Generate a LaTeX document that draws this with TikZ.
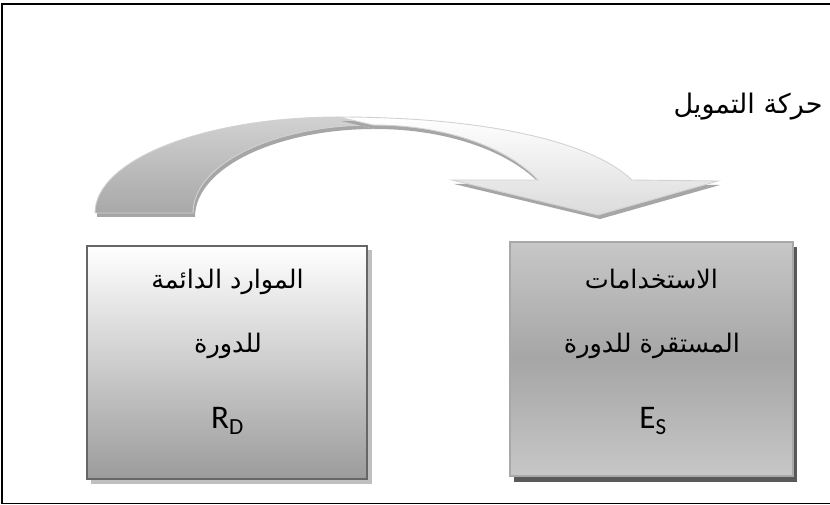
\documentclass[tikz,border=0pt]{standalone}
\usepackage{fontspec}
\TeXXeTstate=1
\newfontfamily\arabicfont[Script=Arabic]{DejaVu Sans}
\newfontfamily\latinfont{Carlito}
\definecolor{boxborder}{HTML}{666666}
\definecolor{lshadow}{HTML}{BFBFBF}
\definecolor{rshadow}{HTML}{595959}
\definecolor{rborder}{HTML}{A8A8A8}
\definecolor{arrshadow}{HTML}{A6A6A6}
\definecolor{arrrim}{HTML}{D2D2D2}
\tikzset{
  artext/.style={font=\arabicfont\fontsize{25.5}{30}\selectfont, inner sep=0pt, anchor=base},
  titletext/.style={font=\arabicfont\fontsize{27}{32}\selectfont, inner sep=0pt, anchor=base},
  lattext/.style={font=\latinfont\fontsize{33}{38}\selectfont, inner sep=0pt, anchor=base},
}
\newcommand\BackArrowPath{(95,213) .. controls (95,160) and (204,117) .. (339,117) -- (373,125) .. controls (274,125) and (193,164) .. (193,213) -- cycle}
\newcommand\FrontArrowPath{(339,117) .. controls (480,117) and (590,140) .. (632,180) -- (718,181) -- (598,215) -- (452,180) -- (538,180) .. controls (510,150) and (450,125) .. (373,125) -- cycle}
\begin{document}
\begin{tikzpicture}[x=1pt,y=-1pt]
\useasboundingbox (0,0) rectangle (830,505);
% frame
\draw[line width=1.6pt] (840,4) -- (2,4) -- (2,503.5) -- (840,503.5);
% curved arrow
\fill[arrshadow,shift={(2,4)}] \BackArrowPath;
\shade[top color=black!18,bottom color=black!34,draw=arrrim,line width=0.9pt] \BackArrowPath;
\fill[arrshadow,shift={(2,4)}] \FrontArrowPath;
\shade[top color=white,bottom color=black!14,draw=arrrim,line width=0.9pt] \FrontArrowPath;
\node[titletext] (title) at (748,114) {\beginR حركة التمويل\endR};
% left box
\fill[lshadow] (91,250) rectangle (372,484);
\shade[top color=white,bottom color=black!39,draw=boxborder,line width=2pt] (87,246) rectangle (367,479);
\node[artext] (l1) at (227.5,288) {\beginR الموارد الدائمة\endR};
\node[artext] (l2) at (228,352) {\beginR للدورة\endR};
\node[lattext] (l3) at (227.5,428) {R\textsubscript{D}};
% right box
\fill[rshadow] (514,247) rectangle (797,482);
\shade[top color=black!22,bottom color=black!22,middle color=black!35,draw=rborder,line width=1.2pt] (510,242) rectangle (793,476);
\node[artext] (r1) at (651.5,288) {\beginR الاستخدامات\endR};
\node[artext] (r2) at (652,352) {\beginR المستقرة للدورة\endR};
\node[lattext] (r3) at (653,428) {E\textsubscript{S}};
\end{tikzpicture}
\end{document}
